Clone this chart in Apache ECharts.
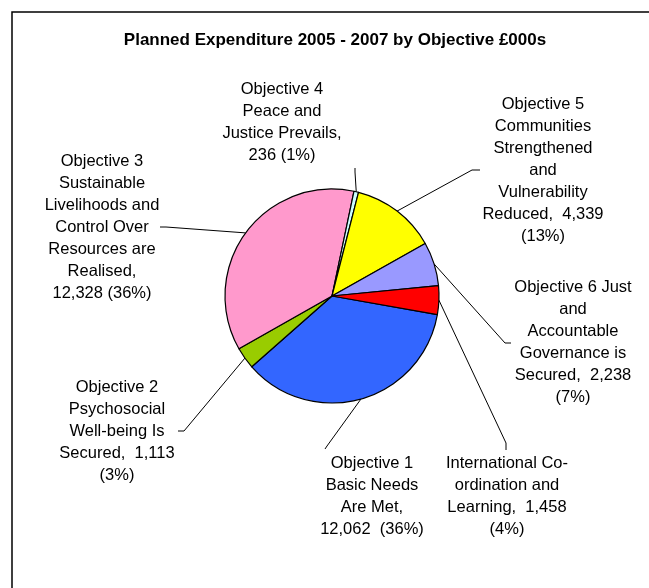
<!DOCTYPE html>
<html>
<head>
<meta charset="utf-8">
<script src="https://cdn.jsdelivr.net/npm/echarts@6/dist/echarts.min.js"></script>
<style>
html,body{margin:0;padding:0;background:#fff;}
#chart{width:649px;height:588px;}
</style>
</head>
<body>
<div id="chart"></div>
<script>
// ---- data ----
const titleText = 'Planned Expenditure 2005 - 2007 by Objective £000s';
const categories = [
  'Objective 1 Basic Needs Are Met',
  'Objective 2 Psychosocial Well-being Is Secured',
  'Objective 3 Sustainable Livelihoods and Control Over Resources are Realised',
  'Objective 4 Peace and Justice Prevails',
  'Objective 5 Communities Strengthened and Vulnerability Reduced',
  'Objective 6 Just and Accountable Governance is Secured',
  'International Co-ordination and Learning'
];
const values = [12062, 1113, 12328, 236, 4339, 2238, 1458];
const colors = ['#3366FF', '#99CC00', '#FF99CC', '#CCFFFF', '#FFFF00', '#9999FF', '#FF0000'];
// label text as wrapped in the original ({v} value, {p} percent)
const labelTemplates = [
  'Objective 1\nBasic Needs\nAre Met,\n{v}  ({p}%)',
  'Objective 2\nPsychosocial\nWell-being Is\nSecured,  {v}\n({p}%)',
  'Objective 3\nSustainable\nLivelihoods and\nControl Over\nResources are\nRealised,\n{v} ({p}%)',
  'Objective 4\nPeace and\nJustice Prevails,\n{v} ({p}%)',
  'Objective 5\nCommunities\nStrengthened\nand\nVulnerability\nReduced,  {v}\n({p}%)',
  'Objective 6 Just\nand\nAccountable\nGovernance is\nSecured,  {v}\n({p}%)',
  'International Co-\nordination and\nLearning,  {v}\n({p}%)'
];
// label centre positions (layout)
const labelPos = [
  [372, 496], [117, 431], [102, 227], [282, 122], [543, 170], [573, 342], [507, 496]
];
// leader line elbow and end points (layout)
const leaderElbow = [[327, 446], [184, 431], [166, 227], [355, 172], [472, 170], [505, 343], [506, 443]];
const leaderEnd   = [[325, 449], [178, 431], [160, 227], [355, 168], [480, 170], [511, 343], [506, 450]];

const chart = echarts.init(document.getElementById('chart'), null, {renderer: 'canvas'});
const FONT = '"Liberation Sans", Arial, Helvetica, sans-serif';

chart.setOption({
  animation: false,
  backgroundColor: '#ffffff',
  title: {
    text: titleText,
    left: 330,
    top: 27,
    textAlign: 'center',
    textStyle: {fontFamily: FONT, fontSize: 17, fontWeight: 'bold', color: '#000'}
  },
  graphic: [{
    type: 'polyline',
    shape: {points: [[12, 600], [12, 12], [660, 12]]},
    style: {stroke: '#000', lineWidth: 1.5, fill: null},
    silent: true
  }],
  series: [{
    type: 'pie',
    center: [332, 296],
    radius: 107,
    startAngle: -10,
    clockwise: true,
    percentPrecision: 0,
    avoidLabelOverlap: false,
    data: categories.map((n, i) => ({name: n, value: values[i], itemStyle: {color: colors[i]}})),
    itemStyle: {borderColor: '#000', borderWidth: 1.2},
    emphasis: {disabled: true},
    label: {
      show: true,
      position: 'outside',
      fontFamily: FONT,
      fontSize: 16.5,
      lineHeight: 22,
      color: '#000',
      align: 'center',
      formatter: p => labelTemplates[p.dataIndex]
        .replace('{v}', p.value.toLocaleString('en-US'))
        .replace('{p}', p.percent)
    },
    labelLine: {
      show: true,
      length: 10,
      length2: 10,
      lineStyle: {color: '#000', width: 1}
    },
    labelLayout: function (params) {
      const i = params.dataIndex;
      const pos = labelPos[i];
      const out = {x: pos[0], y: pos[1], align: 'center', verticalAlign: 'middle'};
      if (params.labelLinePoints && params.labelLinePoints.length) {
        out.labelLinePoints = [params.labelLinePoints[0].slice(), leaderElbow[i], leaderEnd[i]];
      }
      return out;
    }
  }]
});
</script>
</body>
</html>
